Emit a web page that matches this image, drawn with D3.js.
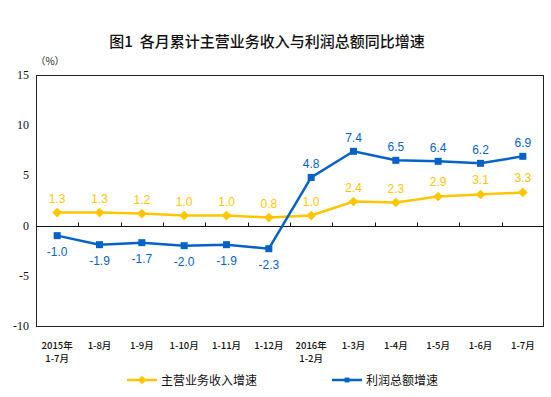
<!DOCTYPE html>
<html>
<head>
<meta charset="utf-8">
<script src="https://cdn.jsdelivr.net/npm/d3@7"></script>
<style>
  body { margin: 0; background: #fff; }
  svg { display: block; }
</style>
</head>
<body>
<div id="chart"></div>
<script>
"use strict";

var categories = ["2015年\n1-7月", "1-8月", "1-9月", "1-10月", "1-11月", "1-12月",
                  "2016年\n1-2月", "1-3月", "1-4月", "1-5月", "1-6月", "1-7月"];
var revenue = [1.3, 1.3, 1.2, 1.0, 1.0, 0.8, 1.0, 2.4, 2.3, 2.9, 3.1, 3.3];
var profit = [-1.0, -1.9, -1.7, -2.0, -1.9, -2.3, 4.8, 7.4, 6.5, 6.4, 6.2, 6.9];
var yTicks = [-10, -5, 0, 5, 10, 15];
var seriesNames = ["主营业务收入增速", "利润总额增速"];

var W = 551, H = 397,
    m = [75, 7, 71, 36]; // top right bottom left

var svg = d3.select("#chart").append("svg")
    .attr("width", W)
    .attr("height", H);

var x = d3.scaleBand().domain(categories).range([m[3], W - m[1]]);
var y = d3.scaleLinear().domain([-10, 15]).range([H - m[2], m[0]]);

var cx = function(d, i) { return x(categories[i]) + x.bandwidth() / 2; };

// title
svg.append("text")
    .attr("x", 267).attr("y", 47)
    .attr("text-anchor", "middle")
    .style("white-space", "pre")
    .style("font-family", "'Noto Sans CJK SC', sans-serif")
    .style("font-size", "15px")
    .style("font-weight", "500")
    .style("fill", "#111")
    .text("图1  各月累计主营业务收入与利润总额同比增速");

svg.append("text")
    .attr("x", 50).attr("y", 65)
    .attr("text-anchor", "middle")
    .style("font-family", "'Noto Sans CJK SC', sans-serif")
    .style("font-size", "10px")
    .style("fill", "#222")
    .text("（%）");

// frame
svg.append("rect")
    .attr("x", m[3] + 0.5).attr("y", y(15) + 0.5)
    .attr("width", W - m[1] - m[3] - 1)
    .attr("height", y(-10) - y(15))
    .attr("fill", "none")
    .attr("stroke", "#222")
    .attr("stroke-width", 1);

// y labels
svg.selectAll(".ylab").data(yTicks).enter().append("text")
    .attr("class", "ylab")
    .attr("x", 29)
    .attr("y", function(d) { return y(d) + 4; })
    .attr("text-anchor", "end")
    .style("font-family", "'Liberation Serif', serif")
    .style("font-size", "12px")
    .style("fill", "#111")
    .text(function(d) { return d; });

// zero line with ticks at band edges
var zero = Math.round(y(0)) + 0.5;
svg.append("line")
    .attr("x1", m[3]).attr("x2", W - m[1])
    .attr("y1", zero).attr("y2", zero)
    .attr("stroke", "#111");
svg.selectAll(".xtick").data(categories.slice(1)).enter().append("line")
    .attr("class", "xtick")
    .attr("x1", function(d) { return Math.round(x(d)) + 0.5; })
    .attr("x2", function(d) { return Math.round(x(d)) + 0.5; })
    .attr("y1", zero).attr("y2", zero - 4)
    .attr("stroke", "#111");

// x labels
var xl = svg.selectAll(".xlab").data(categories).enter().append("text")
    .attr("class", "xlab")
    .attr("text-anchor", "middle")
    .attr("transform", function(d, i) { return "translate(" + cx(d, i) + ",349)"; })
    .style("font-family", "'Noto Sans CJK SC', sans-serif")
    .style("font-size", "9.5px")
    .style("font-weight", "500")
    .style("fill", "#111");
xl.selectAll("tspan")
    .data(function(d) { return d.split("\n"); })
    .enter().append("tspan")
    .attr("x", 0)
    .attr("dy", function(d, i) { return i ? 13 : 0; })
    .text(function(d) { return d; });

var yellow = "#FFC600", blue = "#0563C8";

var line = d3.line()
    .x(cx)
    .y(function(d) { return y(d); });

svg.append("path").datum(revenue)
    .attr("d", line).attr("fill", "none")
    .attr("stroke", yellow).attr("stroke-width", 2.5);
svg.append("path").datum(profit)
    .attr("d", line).attr("fill", "none")
    .attr("stroke", blue).attr("stroke-width", 2.5);

var diamond = d3.symbol().type(d3.symbolDiamond2).size(60);
svg.selectAll(".rev").data(revenue).enter().append("path")
    .attr("class", "rev")
    .attr("d", diamond)
    .attr("transform", function(d, i) { return "translate(" + cx(d, i) + "," + y(d) + ")"; })
    .attr("fill", yellow);

svg.selectAll(".pro").data(profit).enter().append("rect")
    .attr("class", "pro")
    .attr("x", function(d, i) { return cx(d, i) - 3.5; })
    .attr("y", function(d) { return y(d) - 3.5; })
    .attr("width", 7).attr("height", 7)
    .attr("fill", blue);

// data labels
var labStyle = function(sel, col) {
  sel.attr("text-anchor", "middle")
    .style("font-family", "'Liberation Sans', Arial, sans-serif")
    .style("font-size", "12px")
    .style("fill", col);
};
svg.selectAll(".rlab").data(revenue).enter().append("text")
    .attr("class", "rlab")
    .attr("x", cx)
    .attr("y", function(d) { return y(d) - 10; })
    .call(labStyle, yellow)
    .text(function(d) { return d.toFixed(1); });
svg.selectAll(".plab").data(profit).enter().append("text")
    .attr("class", "plab")
    .attr("x", cx)
    .attr("y", function(d) { return d < 0 ? y(d) + 20 : y(d) - 9; })
    .call(labStyle, blue)
    .text(function(d) { return d.toFixed(1); });

// legend
var leg = [{x: 127, col: yellow, name: seriesNames[0], mark: "d"},
           {x: 332, col: blue, name: seriesNames[1], mark: "s"}];
var lg = svg.selectAll(".leg").data(leg).enter().append("g")
    .attr("class", "leg")
    .attr("transform", function(d) { return "translate(" + d.x + ",380)"; });
lg.append("line")
    .attr("x1", 0).attr("x2", 30)
    .attr("stroke", function(d) { return d.col; })
    .attr("stroke-width", 2.5);
lg.append("path")
    .attr("d", function(d) {
      return d.mark === "d" ? d3.symbol().type(d3.symbolDiamond2).size(45)()
                            : d3.symbol().type(d3.symbolSquare2).size(30)();
    })
    .attr("transform", "translate(15,0)")
    .attr("fill", function(d) { return d.col; });
lg.append("text")
    .attr("x", 34).attr("y", 4.5)
    .style("font-family", "'Noto Sans CJK SC', sans-serif")
    .style("font-size", "12px")
    .style("fill", "#111")
    .text(function(d) { return d.name; });
</script>
</body>
</html>
